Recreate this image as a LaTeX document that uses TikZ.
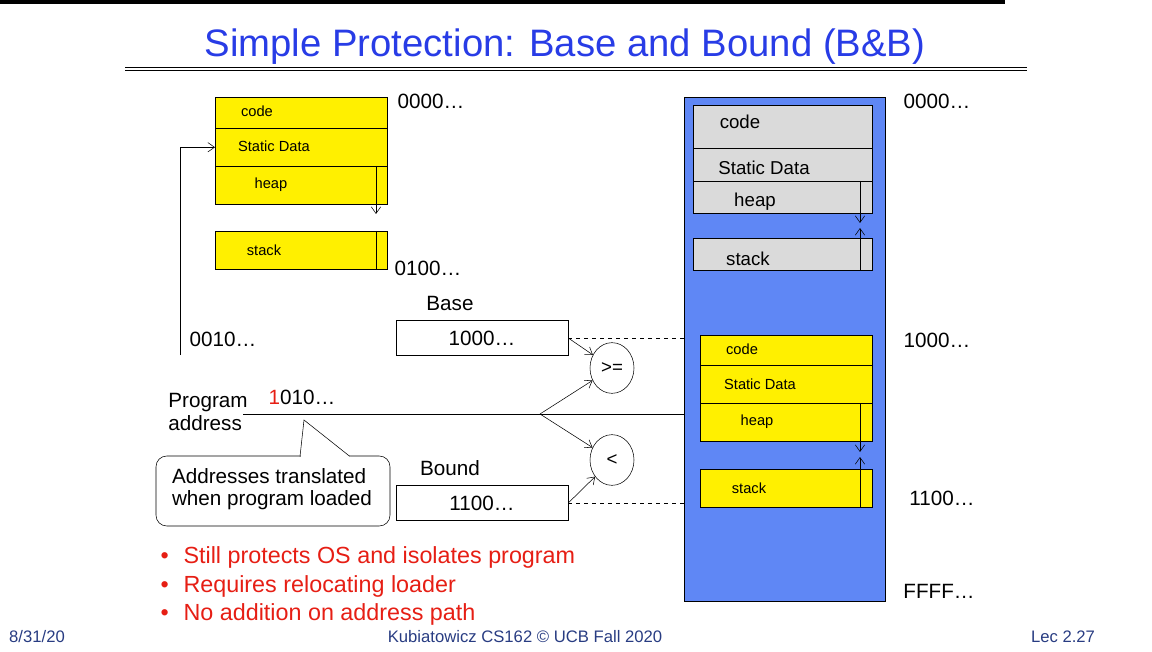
\documentclass[tikz,border=0pt]{standalone}
\usepackage{fontspec}
\setmainfont{Liberation Sans}
\usetikzlibrary{positioning,shapes.geometric,arrows.meta}
\definecolor{titleblue}{RGB}{40,60,230}
\definecolor{membg}{RGB}{95,135,245}
\definecolor{segy}{RGB}{255,240,0}
\definecolor{segg}{RGB}{218,218,218}
\definecolor{bulred}{RGB}{230,30,20}
\definecolor{footc}{RGB}{40,60,130}
\begin{document}
\begin{tikzpicture}[x=0.75pt,y=-0.75pt,>={Straight Barb[length=5pt,width=7pt]},
    seg/.style={draw,fill=segy,anchor=north west,inner sep=0pt},
    gseg/.style={draw,fill=segg,anchor=north west,inner sep=0pt},
    stxt/.style={font=\fontsize{11}{13}\selectfont},
    gtxt/.style={font=\fontsize{14}{16}\selectfont},
    reg/.style={draw,minimum width=129pt,minimum height=26pt,inner sep=0pt,font=\fontsize{15.5}{17}\selectfont},
    cmp/.style={draw,ellipse,minimum width=33pt,minimum height=38pt,inner sep=0pt,font=\fontsize{14}{16}\selectfont},
    lbl/.style={font=\fontsize{15.5}{17}\selectfont},
    bul/.style={anchor=west,text=bulred,font=\fontsize{17.5}{19}\selectfont},
    foot/.style={text=footc,font=\fontsize{12.5}{14}\selectfont}
    ]
    \useasboundingbox (0,0) rectangle (1152,652);
    \fill (0,0) rectangle (1005,4);
    % title
    \node(title) [text=titleblue,font=\fontsize{28.7}{32}\selectfont] at (565,47) {Simple Protection: Base and Bound (B\&B)};
    \draw (125,67) -- (1027,67);
    \draw (125,70) -- (1027,70);

    % program image
    \node(pcode) [seg,minimum width=129pt,minimum height=23.25pt] at (215,97) {};
    \node(pdata) [seg,minimum width=129pt,minimum height=28.5pt] at (215,128) {};
    \node(pheap) [seg,minimum width=129pt,minimum height=28.5pt] at (215,166) {};
    \node(pstack) [seg,minimum width=129pt,minimum height=28.5pt] at (215,231) {};
    \node [stxt] at (257,111) {code};
    \node [stxt] at (274,146) {Static Data};
    \node [stxt] at (271,185) {heap};
    \node [stxt] at (264,250) {stack};
    \draw[->] (376,166) -- (376,214);
    \draw (376,231) -- (376,269);
    \node(p0) [lbl] at (431,101) {0000…};
    \node(p1) [lbl] at (428,268) {0100…};
    \node(p2) [lbl] at (223,339) {0010…};
    \coordinate(pa) at (180,355);
    \draw[->] (pa) |- (pdata.west);

    % registers
    \node(baselbl) [lbl] at (450,303) {Base};
    \node(base) [reg] at (482,338) {1000…};
    \node(boundlbl) [lbl] at (450,468) {Bound};
    \node(bound) [reg] at (482,503) {1100…};
    \node(ge) [cmp] at (612,368) {>=};
    \node(lt) [cmp] at (612,460) {<};

    % program address
    \node(prog) [lbl,align=left] at (208,412) {Program\\address};
    \node(addr) [lbl] at (302,397) {\textcolor{bulred}{1}010…};
    \coordinate(a0) at (243,414);
    \coordinate(fork) at (540,414);
    \coordinate(a1) at (698,414);
    \draw[->] (a0) -- (a1);
    \draw[->] (fork) -- (ge);
    \draw[->] (fork) -- (lt);
    \draw[->] (base.east) -- (ge);
    \draw[->] (bound.east) -- (lt);
    \draw[->,dashed] (base.east) -- (698,338);
    \draw[->,dashed] (bound.east) -- (698,503);

    % callout
    \draw[rounded corners=8pt,fill=white] (156,456) rectangle (390,526);
    \fill[white] (301,458) -- (304,420) -- (352,458) -- cycle;
    \draw (300,456.5) -- (304,420) -- (350,456.5);
    \node(note) [lbl,align=left] at (272,489) {Addresses translated\\when program loaded};

    % physical memory
    \node(mem) [draw,fill=membg,anchor=north west,minimum width=150.75pt,minimum height=378pt,inner sep=0pt] at (684,97) {};
    \node(gcode) [gseg,minimum width=134.25pt,minimum height=32.25pt] at (693,105) {};
    \node(gdata) [gseg,minimum width=134.25pt,minimum height=24.75pt] at (693,148) {};
    \node(gheap) [gseg,minimum width=134.25pt,minimum height=24pt] at (693,181) {};
    \node(gstack) [gseg,minimum width=134.25pt,minimum height=24pt] at (693,238) {};
    \node [gtxt] at (740,122) {code};
    \node [gtxt] at (764,168) {Static Data};
    \node [gtxt] at (755,202) {heap};
    \node [gtxt] at (748,259) {stack};
    \draw[->] (860,181) -- (860,223);
    \draw[->] (860,270) -- (860,228);

    \node(ycode) [seg,minimum width=129pt,minimum height=22.5pt] at (700,335) {};
    \node(ydata) [seg,minimum width=129pt,minimum height=28.5pt] at (700,365) {};
    \node(yheap) [seg,minimum width=129pt,minimum height=28.5pt] at (700,403) {};
    \node(ystack) [seg,minimum width=129pt,minimum height=28.5pt] at (700,469) {};
    \node [stxt] at (742,349) {code};
    \node [stxt] at (760,384) {Static Data};
    \node [stxt] at (757,422) {heap};
    \node [stxt] at (749,488) {stack};
    \draw[->] (860,403) -- (860,452);
    \draw[->] (860,507) -- (860,457);

    \node(m0) [lbl] at (937,101) {0000…};
    \node(m1) [lbl] at (937,340) {1000…};
    \node(m2) [lbl] at (942,498) {1100…};
    \node(m3) [lbl] at (939,591) {FFFF…};

    % bullets
    \node(b1) [bul] at (156,557) {•\hspace{11pt}Still protects OS and isolates program};
    \node(b2) [bul] at (156,586) {•\hspace{11pt}Requires relocating loader};
    \node(b3) [bul] at (156,614) {•\hspace{11pt}No addition on address path};

    % footer
    \node(f1) [foot] at (37,637) {8/31/20};
    \node(f2) [foot] at (525,637) {Kubiatowicz CS162 © UCB Fall 2020};
    \node(f3) [foot] at (1063,637) {Lec 2.27};
\end{tikzpicture}
\end{document}
